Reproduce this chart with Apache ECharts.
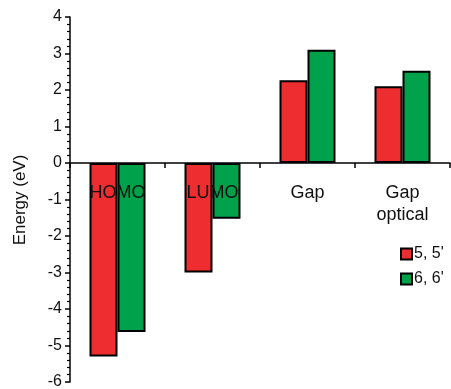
<!DOCTYPE html>
<html><head><meta charset="utf-8">
<script src="https://cdn.jsdelivr.net/npm/echarts@6/dist/echarts.min.js"></script>
<style>html,body{margin:0;padding:0;background:#fff}#c{width:451px;height:389px}</style>
</head><body><div id="c"></div>
<script>
var categories = ['HOMO', 'LUMO', 'Gap', 'Gap\noptical'];
var seriesNames = ["5, 5'", "6, 6'"];
var values55 = [-5.3, -3.0, 2.27, 2.1];
var values66 = [-4.63, -1.53, 3.1, 2.53];
var yTicks = [-6, 4, 1];

var chart = echarts.init(document.getElementById('c'));
var font = 'Liberation Sans, Arial, sans-serif';
var gridTop = 17, gridBottom = 7, H = 389;
var plotH = H - gridTop - gridBottom;
var zeroOffset = -plotH * (0 - yTicks[0]) / (yTicks[1] - yTicks[0]);
chart.setOption({
  animation: false,
  grid: {left: 70, right: 1, top: gridTop, bottom: gridBottom, containLabel: false, outerBoundsMode: 'none'},
  legend: {
    orient: 'vertical', left: 395, top: 241, itemWidth: 11, itemHeight: 11, itemGap: 9,
    icon: 'rect',
    textStyle: {fontFamily: font, fontSize: 16, color: '#111', padding: [0,0,0,-3]},
    data: seriesNames
  },
  graphic: [{
    type: 'text', x: 20, y: 200, rotation: Math.PI/2,
    style: {text: 'Energy (eV)', font: '17px ' + font, fill: '#111', align: 'center', verticalAlign: 'middle'}
  }],
  xAxis: [{
    type: 'category', data: categories, z: 10,
    axisLine: {onZero: true, lineStyle: {color: '#000', width: 1.5}},
    axisTick: {show: true, length: 5, inside: false, lineStyle: {color: '#000', width: 1.5}},
    axisLabel: {show: false}
  }, {
    type: 'category', data: categories, z: 10, position: 'bottom', offset: zeroOffset,
    axisLine: {show: false}, axisTick: {show: false}, splitLine: {show: false},
    axisLabel: {fontFamily: font, fontSize: 18, color: '#111', margin: 19, lineHeight: 22, interval: 0}
  }],
  yAxis: {
    type: 'value', min: yTicks[0], max: yTicks[1], interval: yTicks[2],
    splitLine: {show: false},
    axisLine: {show: true, lineStyle: {color: '#000', width: 1.5}},
    axisTick: {show: true, length: 5, lineStyle: {color: '#000', width: 1.5}},
    minorTick: {show: true, splitNumber: 5, length: 3, lineStyle: {color: '#000', width: 1.2}},
    axisLabel: {fontFamily: font, fontSize: 16, color: '#111', margin: 8}
  },
  series: [
    {name: seriesNames[0], type: 'bar', data: values55, barWidth: 28, barGap: '0%',
     itemStyle: {color: '#EE2D30', borderColor: '#000', borderWidth: 2}},
    {name: seriesNames[1], type: 'bar', data: values66, barWidth: 28, barGap: '0%',
     itemStyle: {color: '#00A14B', borderColor: '#000', borderWidth: 2}}
  ]
});
</script></body></html>
